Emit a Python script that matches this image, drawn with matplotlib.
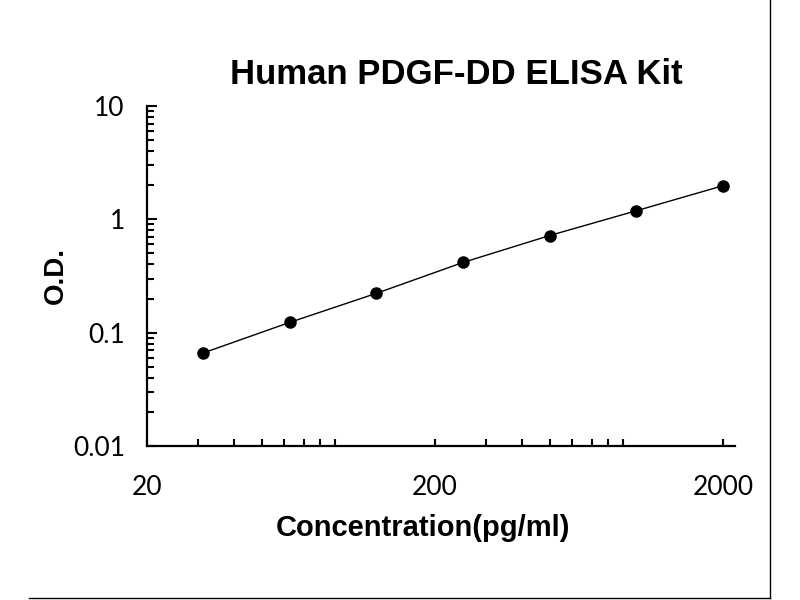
import matplotlib
matplotlib.use('Agg')
import matplotlib.pyplot as plt
from matplotlib.lines import Line2D
from matplotlib.ticker import LogLocator, FixedLocator, FixedFormatter, NullFormatter

# standard curve values
conc = [31.25, 62.5, 125, 250, 500, 1000, 2000]
od = [0.066, 0.123, 0.222, 0.416, 0.719, 1.19, 1.98]

x_ticks = [20, 200, 2000]
x_labels = ['20', '200', '2000']
y_ticks = [0.01, 0.1, 1, 10]
y_labels = ['0.01', '0.1', '1', '10']

TICK_FONT = ['Lato', 'DejaVu Sans']
BOLD_FONT = ['Liberation Sans', 'DejaVu Sans']

fig = plt.figure(figsize=(8, 6), dpi=100)
ax = fig.add_axes([0.18375, 0.2567, 0.735, 0.5667])

ax.plot(conc, od, color='black', linewidth=1.0, marker='o',
        markersize=8, markerfacecolor='black', markeredgecolor='black')

ax.set_xscale('log')
ax.set_yscale('log')
ax.set_xlim(20, 2200)
ax.set_ylim(0.01, 10)

for side in ['top', 'right']:
    ax.spines[side].set_visible(False)
for side in ['left', 'bottom']:
    ax.spines[side].set_linewidth(1.6)

ax.xaxis.set_major_locator(FixedLocator(x_ticks))
ax.xaxis.set_major_formatter(FixedFormatter(x_labels))
ax.xaxis.set_minor_locator(LogLocator(base=10, subs=range(2, 10)))
ax.xaxis.set_minor_formatter(NullFormatter())
ax.yaxis.set_major_locator(FixedLocator(y_ticks))
ax.yaxis.set_major_formatter(FixedFormatter(y_labels))
ax.yaxis.set_minor_locator(LogLocator(base=10, subs=range(2, 10)))
ax.yaxis.set_minor_formatter(NullFormatter())

ax.tick_params(axis='both', which='both', direction='in', width=1.5,
               color='black')
ax.tick_params(axis='x', which='both', length=5, pad=21)
ax.tick_params(axis='y', which='major', length=7, pad=16)
ax.tick_params(axis='y', which='minor', length=5)
for lab in ax.get_xticklabels() + ax.get_yticklabels():
    lab.set_fontfamily(TICK_FONT)
    lab.set_fontsize(19)

ax.set_xlabel('Concentration(pg/ml)', fontsize=21, fontweight='bold',
              family=BOLD_FONT)
ax.xaxis.set_label_coords(0.469, -0.2)
ax.set_ylabel('O.D.', fontsize=20, fontweight='bold', family=BOLD_FONT)
ax.yaxis.set_label_coords(-0.133, 0.5)
fig.text(0.57, 0.875, 'Human PDGF-DD ELISA Kit', fontsize=25,
         fontweight='bold', family=BOLD_FONT, ha='center', va='center')

# frame lines from the original picture border
fig.add_artist(Line2D([0.9625, 0.9625], [0.003, 1.0], color='black',
                      linewidth=1.0, transform=fig.transFigure))
fig.add_artist(Line2D([0.036, 0.9625], [0.003, 0.003], color='black',
                      linewidth=1.0, transform=fig.transFigure))

fig.savefig('out.png', dpi=100)
